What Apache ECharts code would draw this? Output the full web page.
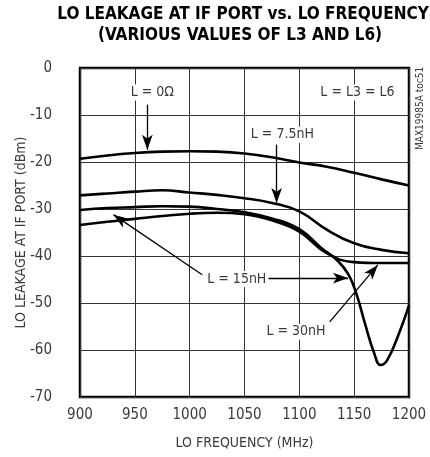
<!DOCTYPE html>
<html>
<head>
<meta charset="utf-8">
<script src="https://cdn.jsdelivr.net/npm/echarts@6/dist/echarts.min.js"></script>
<style>
  html, body { margin: 0; padding: 0; background: #fff; }
  #chart { width: 430px; height: 457px; }
</style>
</head>
<body>
<div id="chart"></div>
<script>
// LO frequency (MHz) sample points and leakage (dBm) per inductor value
const freq0 = [900, 925, 950, 975, 1000, 1025, 1050, 1075, 1100, 1125, 1150, 1175, 1200];
const leak0 = [-19.3, -18.6, -18.1, -17.8, -17.7, -17.8, -18.2, -19.0, -20.1, -21.0, -22.3, -23.7, -25.0];

const freq75 = [900, 925, 950, 975, 1000, 1025, 1050, 1075, 1100, 1125, 1150, 1175, 1200];
const leak75 = [-27.1, -26.7, -26.3, -26.0, -26.5, -27.0, -27.7, -28.7, -30.5, -34.4, -37.3, -38.7, -39.4];

const freq15 = [900, 925, 950, 975, 1000, 1025, 1050, 1075, 1100, 1120, 1135, 1145, 1152, 1160, 1168, 1174, 1180, 1190, 1200];
const leak15 = [-30.2, -29.8, -29.6, -29.4, -29.5, -30.0, -30.7, -32.0, -34.3, -38.3, -41.0, -44.0, -48.0, -54.5, -60.5, -63.2, -62.2, -57.0, -50.5];

const freq30 = [900, 925, 950, 975, 1000, 1025, 1050, 1075, 1100, 1125, 1150, 1175, 1200];
const leak30 = [-33.4, -32.7, -32.1, -31.5, -31.0, -30.8, -31.1, -32.4, -34.8, -39.4, -41.3, -41.5, -41.5];

const xTicks = [900, 950, 1000, 1050, 1100, 1150, 1200];
const yTicks = [0, -10, -20, -30, -40, -50, -60, -70];

// Callout labels [freq, dBm, text]
const callouts = [
  [966, -5.2, 'L = 0Ω'],
  [1153, -5.2, 'L = L3 = L6'],
  [1084.5, -14.2, 'L = 7.5nH'],
  [1043, -44.9, 'L = 15nH'],
  [1097, -56.1, 'L = 30nH']
];
// Pointer arrows [fromFreq, fromDbm, toFreq, toDbm]
const pointers = [
  [961.4, -7.8, 961.4, -17.4],
  [1079.3, -16.3, 1079.3, -28.7],
  [1011.4, -44.0, 930.5, -31.2],
  [1071.6, -44.7, 1144.4, -44.7],
  [1127.7, -54.0, 1171.6, -41.9]
];

const FONT = "'Liberation Sans Narrow', 'DejaVu Sans Condensed', 'Roboto', sans-serif";
const INK = '#3a3a3a';
const pair = (xs, ys) => xs.map((x, i) => [x, ys[i]]);

const curve = (name, xs, ys) => ({
  name, type: 'line', data: pair(xs, ys),
  smooth: 0.45,
  showSymbol: false, symbol: 'none',
  lineStyle: { color: '#000', width: 2.6 },
  z: 3, silent: true
});

const chart = echarts.init(document.getElementById('chart'), null, { renderer: 'canvas' });

const series = [
  curve('L = 0Ω', freq0, leak0),
  curve('L = 7.5nH', freq75, leak75),
  curve('L = 15nH', freq15, leak15),
  curve('L = 30nH', freq30, leak30)
];

// Arrow callouts and text boxes attached to an empty helper series
series.push({
  type: 'line', data: [], silent: true, z: 5,
  markLine: {
    silent: true, animation: false,
    symbol: ['none', 'arrow'], symbolSize: [8, 15],
    label: { show: false },
    lineStyle: { color: '#000', width: 1.3, type: 'solid' },
    data: pointers.map(p => [{ coord: [p[0], p[1]] }, { coord: [p[2], p[3]] }])
  },
  markPoint: {
    silent: true, animation: false,
    symbol: 'circle', symbolSize: 1,
    itemStyle: { color: 'rgba(0,0,0,0)' },
    label: {
      show: true, position: 'inside',
      fontFamily: FONT, fontSize: 14, color: INK,
      backgroundColor: '#fff', padding: [1, 2]
    },
    data: callouts.map(c => ({ coord: [c[0], c[1]], value: c[2], label: { formatter: c[2] } }))
  }
});

chart.setOption({
  animation: false,
  backgroundColor: '#fff',
  grid: { left: 80, right: 21, top: 68, bottom: 60, outerBoundsMode: 'none', containLabel: false,
          show: true, borderColor: '#000', borderWidth: 2.5 },
  graphic: [
    { type: 'text', x: 243, y: 6, style: { text: 'LO LEAKAGE AT IF PORT vs. LO FREQUENCY', fontFamily: FONT, fontSize: 17, fontWeight: 'bold', fill: '#000', textAlign: 'center', textVerticalAlign: 'top' } },
    { type: 'text', x: 240, y: 27, style: { text: '(VARIOUS VALUES OF L3 AND L6)', fontFamily: FONT, fontSize: 17, fontWeight: 'bold', fill: '#000', textAlign: 'center', textVerticalAlign: 'top' } },
    { type: 'text', x: 415, y: 150, rotation: Math.PI / 2, style: { text: 'MAX19985A toc51', fontFamily: FONT, fontSize: 10, fill: INK, textAlign: 'left', textVerticalAlign: 'top' } }
  ],
  xAxis: {
    type: 'value', min: 900, max: 1200, interval: 50,
    name: 'LO FREQUENCY (MHz)', nameLocation: 'middle', nameGap: 39, nameMoveOverlap: false,
    nameTextStyle: { fontFamily: FONT, fontSize: 14, color: INK },
    axisLine: { show: false }, axisTick: { show: false },
    axisLabel: { fontFamily: FONT, fontSize: 15, color: INK, margin: 11,
      formatter: v => xTicks.includes(v) ? String(v) : '' },
    splitLine: { show: true, lineStyle: { color: '#333', width: 1 } }
  },
  yAxis: {
    type: 'value', min: -70, max: 0, interval: 10,
    name: 'LO LEAKAGE AT IF PORT (dBm)', nameLocation: 'middle', nameGap: 52, nameMoveOverlap: false,
    nameTextStyle: { fontFamily: FONT, fontSize: 14, color: INK },
    axisLine: { show: false }, axisTick: { show: false },
    axisLabel: { fontFamily: FONT, fontSize: 15, color: INK, margin: 28,
      formatter: v => yTicks.includes(v) ? String(v) : '' },
    splitLine: { show: true, lineStyle: { color: '#333', width: 1 } }
  },
  series
});
</script>
</body>
</html>
